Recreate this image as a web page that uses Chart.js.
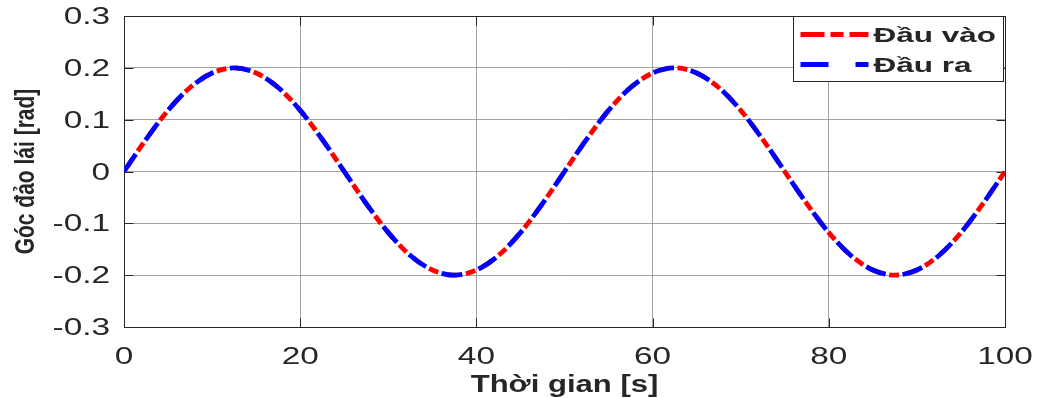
<!DOCTYPE html>
<html>
<head>
<meta charset="utf-8">
<script src="https://cdn.jsdelivr.net/npm/chart.js@4.4.1/dist/chart.umd.min.js"></script>
<style>
  html, body { margin: 0; padding: 0; background: #ffffff; }
  #wrap { width: 1040px; height: 398px; position: relative; }
</style>
</head>
<body>
<div id="wrap"><canvas id="c"></canvas></div>
<script>
// Time samples [s]
const timeSec = [
  0, 2.5, 5, 7.5, 10, 12.5, 15, 17.5, 20, 22.5,
  25, 27.5, 30, 32.5, 35, 37.5, 40, 42.5, 45, 47.5,
  50, 52.5, 55, 57.5, 60, 62.5, 65, 67.5, 70, 72.5,
  75, 77.5, 80, 82.5, 85, 87.5, 90, 92.5, 95, 97.5, 100
];
// Commanded roll angle [rad]
const inputAngle = [
  0, 0.062, 0.118, 0.162, 0.190, 0.200, 0.190, 0.162, 0.118, 0.062,
  0, -0.062, -0.118, -0.162, -0.190, -0.200, -0.190, -0.162, -0.118, -0.062,
  0, 0.062, 0.118, 0.162, 0.190, 0.200, 0.190, 0.162, 0.118, 0.062,
  0, -0.062, -0.118, -0.162, -0.190, -0.200, -0.190, -0.162, -0.118, -0.062, 0
];
// Measured roll angle [rad]
const outputAngle = [
  0, 0.062, 0.118, 0.162, 0.190, 0.200, 0.190, 0.162, 0.118, 0.062,
  0, -0.062, -0.118, -0.162, -0.190, -0.200, -0.190, -0.162, -0.118, -0.062,
  0, 0.062, 0.118, 0.162, 0.190, 0.200, 0.190, 0.162, 0.118, 0.062,
  0, -0.062, -0.118, -0.162, -0.190, -0.200, -0.190, -0.162, -0.118, -0.062, 0
];
const xTickValues = [0, 20, 40, 60, 80, 100];
const yTickValues = [-0.3, -0.2, -0.1, 0, 0.1, 0.2, 0.3];
const yTickLabels = ['-0.3', '-0.2', '-0.1', '0', '0.1', '0.2', '0.3'];
const seriesNames = ['Đầu vào', 'Đầu ra'];
const xTitle = 'Thời gian [s]';
const yTitle = 'Góc đảo lái [rad]';

const FONT = "'Liberation Sans', Arial, sans-serif";
const TEXT_COLOR = '#262626';
const AXIS_COLOR = '#262626';

function stretchedText(ctx, text, x, y, sx, align, baseline, font) {
  ctx.save();
  ctx.font = font;
  ctx.fillStyle = TEXT_COLOR;
  ctx.textAlign = align;
  ctx.textBaseline = baseline;
  ctx.translate(x, y);
  ctx.scale(sx, 1);
  ctx.fillText(text, 0, 0);
  ctx.restore();
}

// Axis box with inward tick marks, drawn under the curves
const axisBox = {
  id: 'axisBox',
  beforeDatasetsDraw(chart) {
    const { ctx, chartArea: a, scales } = chart;
    ctx.save();
    ctx.strokeStyle = AXIS_COLOR;
    ctx.lineWidth = 1;
    const L = Math.round(a.left) + 0.5, R = Math.round(a.right) + 0.5;
    const T = Math.round(a.top) + 0.5, B = Math.round(a.bottom) + 0.5;
    ctx.strokeRect(L, T, R - L, B - T);
    ctx.beginPath();
    xTickValues.forEach(v => {
      const px = Math.round(scales.x.getPixelForValue(v)) + 0.5;
      ctx.moveTo(px, B); ctx.lineTo(px, B - 9);
      ctx.moveTo(px, T); ctx.lineTo(px, T + 9);
    });
    yTickValues.forEach(v => {
      const py = Math.round(scales.y.getPixelForValue(v)) + 0.5;
      ctx.moveTo(L, py); ctx.lineTo(L + 9, py);
      ctx.moveTo(R, py); ctx.lineTo(R - 9, py);
    });
    ctx.stroke();
    ctx.restore();
  }
};

// Boxed legend in the upper-right corner of the plot area
const boxLegend = {
  id: 'boxLegend',
  afterDatasetsDraw(chart) {
    const { ctx, chartArea: a } = chart;
    const boxW = 210, boxH = 65;
    const bx = Math.round(a.right) - boxW - 1.5, by = Math.round(a.top) + 0.5;
    ctx.save();
    ctx.fillStyle = '#ffffff';
    ctx.fillRect(bx, by, boxW, boxH);
    ctx.strokeStyle = AXIS_COLOR;
    ctx.lineWidth = 1;
    ctx.strokeRect(bx, by, boxW, boxH);
    const rows = [18, 48];
    const legendDash = [[24, 6, 13, 6], [28, 27]];
    chart.data.datasets.forEach((ds, i) => {
      const ly = by + rows[i];
      ctx.save();
      ctx.strokeStyle = ds.borderColor;
      ctx.lineWidth = ds.borderWidth;
      ctx.setLineDash(legendDash[i]);
      ctx.beginPath();
      ctx.moveTo(bx + 7, ly);
      ctx.lineTo(bx + 75, ly);
      ctx.stroke();
      ctx.restore();
      stretchedText(ctx, ds.label, bx + 80, ly + 7, 1.5, 'left', 'alphabetic', 'bold 21px ' + FONT);
    });
    ctx.restore();
  }
};

// Tick labels and axis titles
const axisText = {
  id: 'axisText',
  afterDraw(chart) {
    const { ctx, chartArea: a, scales } = chart;
    const tickFont = '23px ' + FONT;
    yTickValues.forEach((v, i) => {
      const py = scales.y.getPixelForValue(v);
      stretchedText(ctx, yTickLabels[i], a.left - 14, py + 8, 1.45, 'right', 'alphabetic', tickFont);
    });
    xTickValues.forEach(v => {
      const px = scales.x.getPixelForValue(v);
      stretchedText(ctx, String(v), px, a.bottom + 37, 1.45, 'center', 'alphabetic', tickFont);
    });
    stretchedText(ctx, xTitle, (a.left + a.right) / 2, a.bottom + 65, 1.35, 'center', 'alphabetic', 'bold 23px ' + FONT);
    // vertical title, thickened across its reading direction
    ctx.save();
    ctx.font = 'bold 21px ' + FONT;
    ctx.fillStyle = TEXT_COLOR;
    ctx.textAlign = 'center';
    ctx.textBaseline = 'middle';
    ctx.translate(26, (a.top + a.bottom) / 2);
    ctx.rotate(-Math.PI / 2);
    ctx.scale(1, 1.35);
    ctx.fillText(yTitle, 0, 0);
    ctx.restore();
  }
};

const toPoints = ys => timeSec.map((t, i) => ({ x: t, y: ys[i] }));

new Chart(document.getElementById('c'), {
  type: 'line',
  data: {
    datasets: [
      {
        label: seriesNames[0],
        data: toPoints(inputAngle),
        borderColor: '#ff0000',
        borderWidth: 4.8,
        borderDash: [10, 9],
        borderDashOffset: 13.5,
        pointRadius: 0,
        cubicInterpolationMode: 'monotone',
        fill: false,
        order: 2
      },
      {
        label: seriesNames[1],
        data: toPoints(outputAngle),
        borderColor: '#0000ff',
        borderWidth: 4.8,
        borderDash: [21, 17],
        pointRadius: 0,
        cubicInterpolationMode: 'monotone',
        fill: false,
        order: 1
      }
    ]
  },
  options: {
    responsive: true,
    maintainAspectRatio: false,
    animation: false,
    devicePixelRatio: 1,
    layout: { padding: { left: 124, right: 35, top: 16, bottom: 71 } },
    plugins: { legend: { display: false }, tooltip: { enabled: false } },
    scales: {
      x: {
        type: 'linear', min: 0, max: 100,
        ticks: { display: false, stepSize: 20 },
        grid: { color: '#a3a3a3', lineWidth: 1, drawTicks: false },
        border: { display: false }
      },
      y: {
        type: 'linear', min: -0.3, max: 0.3,
        ticks: { display: false, stepSize: 0.1 },
        grid: { color: '#a3a3a3', lineWidth: 1, drawTicks: false },
        border: { display: false }
      }
    }
  },
  plugins: [axisBox, boxLegend, axisText]
});
</script>
</body>
</html>
